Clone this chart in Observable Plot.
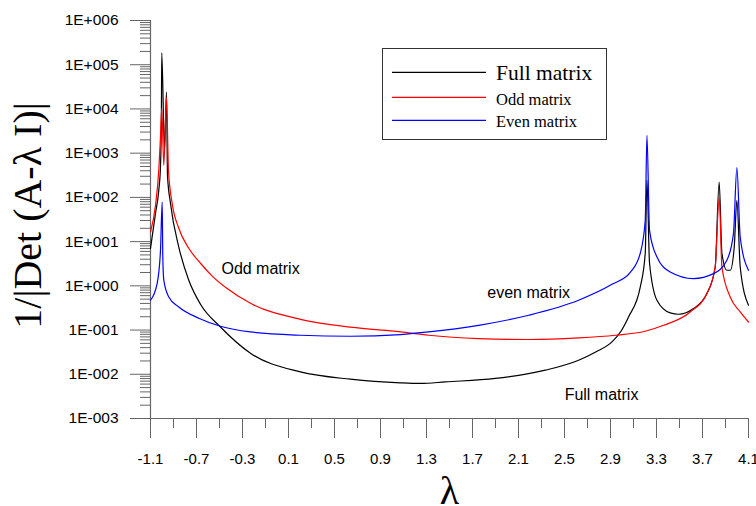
<!DOCTYPE html>
<html><head><meta charset="utf-8">
<script src="https://cdn.jsdelivr.net/npm/d3@7"></script>
<script src="https://cdn.jsdelivr.net/npm/@observablehq/plot@0.6"></script>
<style>body{margin:0;background:#fff} svg{display:block}</style>
</head><body><div id="chart"></div>
<script>
// Full matrix (black)
const fullX = [-1.1, -1.0565, -1.028, -1.0127, -1.0057, -1.0018, -0.9783, -0.9609, -0.9523, -0.9262, -0.854, -0.7671, -0.6654, -0.4916, -0.2309, 0.2037, 0.6382, 1.0728, 1.25, 1.4639, 1.8985, 2.333, 2.6224, 2.7671, 2.9127, 2.9908, 3.057, 3.1587, 3.2021, 3.2169, 3.2395, 3.3038, 3.4194, 3.4915, 3.6219, 3.7383, 3.8105, 3.845, 3.869, 3.912, 3.941, 3.976, 3.999, 4.028, 4.1];
const fullY = [7.06, 43.6, 144, 530, 5500, 186000, 1160, 24000, 315, 73, 7.55, 1.34, 0.383, 0.117, 0.0299, 0.0113, 0.00775, 0.0064, 0.0062, 0.00673, 0.00804, 0.0124, 0.0208, 0.0316, 0.054, 0.094, 0.198, 0.94, 5.45, 243, 3.24, 0.472, 0.244, 0.228, 0.306, 0.668, 2.67, 222, 5.45, 2.25, 2.25, 7.55, 86, 2.67, 0.364];
// Odd matrix (red)
const oddX = [-1.1, -1.0565, -1.028, -1.0127, -1.0018, -0.9844, -0.9609, -0.9436, -0.9114, -0.854, -0.7671, -0.6654, -0.5612, -0.4482, -0.2309, 0.2037, 0.6382, 1.0728, 1.3187, 1.7533, 2.1879, 2.6224, 2.9414, 3.2021, 3.3612, 3.5932, 3.7383, 3.8105, 3.845, 3.869, 3.941, 4.028, 4.1];
const oddY = [16.5, 66, 408, 2520, 10300, 530, 18500, 408, 73, 20, 7.06, 3.24, 1.64, 0.927, 0.404, 0.175, 0.116, 0.0906, 0.0763, 0.0643, 0.0611, 0.0664, 0.0763, 0.094, 0.128, 0.257, 0.668, 2.67, 98.7, 2.67, 0.56, 0.257, 0.152];
// Even matrix (blue)
const evenX = [-1.1, -1.0418, -1.0131, -0.9983, -0.9932, -0.9844, -0.941, -0.854, -0.6802, -0.4916, -0.2309, 0.2037, 0.6382, 1.0728, 1.3187, 1.7533, 2.1879, 2.6224, 2.9127, 3.0719, 3.1587, 3.2021, 3.2169, 3.2395, 3.3038, 3.4194, 3.6219, 3.7957, 3.912, 3.9694, 3.999, 4.028, 4.1];
const evenY = [0.472, 1.14, 6.36, 78.5, 4.9, 1.34, 0.56, 0.333, 0.185, 0.122, 0.0906, 0.0763, 0.0725, 0.0792, 0.0906, 0.128, 0.216, 0.472, 1.08, 2.02, 5.45, 30.3, 2520, 18, 4.49, 2.06, 1.46, 1.89, 3.79, 15.4, 470, 12.7, 2.25];

const seriesNames = ["Full matrix", "Odd matrix", "Even matrix"];
const seriesColors = ["#000000", "#ff0000", "#0000ff"];

const xTicks = [-1.1, -0.7, -0.3, 0.1, 0.5, 0.9, 1.3, 1.7, 2.1, 2.5, 2.9, 3.3, 3.7, 4.1];
const xTickLabels = ["-1.1", "-0.7", "-0.3", "0.1", "0.5", "0.9", "1.3", "1.7", "2.1", "2.5", "2.9", "3.3", "3.7", "4.1"];
const xMinor = [-0.9, -0.5, -0.1, 0.3, 0.7, 1.1, 1.5, 1.9, 2.3, 2.7, 3.1, 3.5, 3.9];
const yTicks = [1e-3, 1e-2, 1e-1, 1, 1e1, 1e2, 1e3, 1e4, 1e5, 1e6];
const yTickLabels = ["1E-003", "1E-002", "1E-001", "1E+000", "1E+001", "1E+002", "1E+003", "1E+004", "1E+005", "1E+006"];
const yMinor = yTicks.slice(0, -1).flatMap(d => [2, 3, 4, 5, 6, 7, 8, 9].map(k => k * d));

const annoText = ["Odd matrix", "even matrix", "Full matrix"];
const annoX = [-0.143, 2.188, 2.822];
const annoY = [2.37, 0.69, 0.00336];

const yTitle = "1/|Det (A-λ I)|";
const xTitle = "λ";

const toRows = (xs, ys) => xs.map((x, i) => ({lambda: x, v: ys[i]}));
const fullRows = toRows(fullX, fullY);
const oddRows = toRows(oddX, oddY);
const evenRows = toRows(evenX, evenY);
const annos = annoText.map((t, i) => ({t, x: annoX[i], y: annoY[i]}));

const sans = "'Liberation Sans', Arial, sans-serif";
const serif = "'Liberation Serif', 'Times New Roman', serif";
const axisColor = "#666";

const plot = Plot.plot({
  width: 756, height: 506,
  marginLeft: 150, marginRight: 8, marginTop: 20, marginBottom: 88,
  style: {fontFamily: sans, background: "#fff", color: "#000", overflow: "visible"},
  x: {domain: [-1.1, 4.1]},
  y: {type: "log", domain: [1e-3, 1e6]},
  marks: [
    Plot.axisY({ticks: yMinor, tickSize: 10, tickFormat: () => "", label: null, stroke: axisColor}),
    Plot.axisY({ticks: yTicks, tickSize: 20, tickPadding: 12, label: null, stroke: axisColor, fill: "#000", fontSize: 15.5, fontFamily: sans,
      tickFormat: d => yTickLabels[d3.minIndex(yTicks, t => Math.abs(Math.log10(t) - Math.log10(d)))]}),
    Plot.axisX({ticks: xMinor, tickSize: 10, tickFormat: () => "", label: null, stroke: axisColor}),
    Plot.axisX({ticks: xTicks, tickSize: 20, tickPadding: 15, label: null, stroke: axisColor, fill: "#000", fontSize: 15, fontFamily: sans,
      tickFormat: d => xTickLabels[d3.minIndex(xTicks, t => Math.abs(t - d))]}),
    Plot.ruleX([-1.1], {stroke: axisColor, strokeWidth: 1.2}),
    Plot.ruleY([1e-3], {stroke: axisColor, strokeWidth: 1.2}),
    Plot.line(fullRows, {x: "lambda", y: "v", stroke: seriesColors[0], strokeWidth: 1.2, curve: "monotone-x"}),
    Plot.line(oddRows, {x: "lambda", y: "v", stroke: seriesColors[1], strokeWidth: 1.2, curve: "monotone-x"}),
    Plot.line(evenRows, {x: "lambda", y: "v", stroke: seriesColors[2], strokeWidth: 1.2, curve: "monotone-x"}),
    Plot.text(annos, {x: "x", y: "y", text: "t", fontSize: 16, fontFamily: sans, fill: "#000"}),
    Plot.text([yTitle], {frameAnchor: "left", dx: -110, dy: -4, rotate: -90, fontSize: 40, fontFamily: serif, lineAnchor: "bottom", textAnchor: "middle", fill: "#000"}),
    Plot.text([xTitle], {frameAnchor: "bottom", dy: 85, fontSize: 40, fontFamily: serif, lineAnchor: "bottom", textAnchor: "middle", fill: "#000"})
  ]
});
document.getElementById("chart").appendChild(plot);

// Legend box inside the plot area
const svg = d3.select(plot);
const lg = svg.append("g").attr("font-family", serif).attr("text-anchor", "start");
lg.append("rect").attr("x", 382.5).attr("y", 48.5).attr("width", 224).attr("height", 91)
  .attr("fill", "#fff").attr("stroke", "#333").attr("stroke-width", 1);
const legendRowsY = [72.3, 97.3, 120.3];
const legendBase = [79.5, 104.8, 127.2];
const legendSize = [21.5, 16.5, 16.5];
seriesNames.forEach((name, i) => {
  lg.append("line").attr("x1", 392).attr("x2", 486).attr("y1", legendRowsY[i]).attr("y2", legendRowsY[i])
    .attr("stroke", seriesColors[i]).attr("stroke-width", 1.2);
  lg.append("text").attr("x", 496).attr("y", legendBase[i]).attr("font-size", legendSize[i])
    .attr("text-anchor", "start").attr("fill", "#000").text(name);
});
</script>
</body></html>
